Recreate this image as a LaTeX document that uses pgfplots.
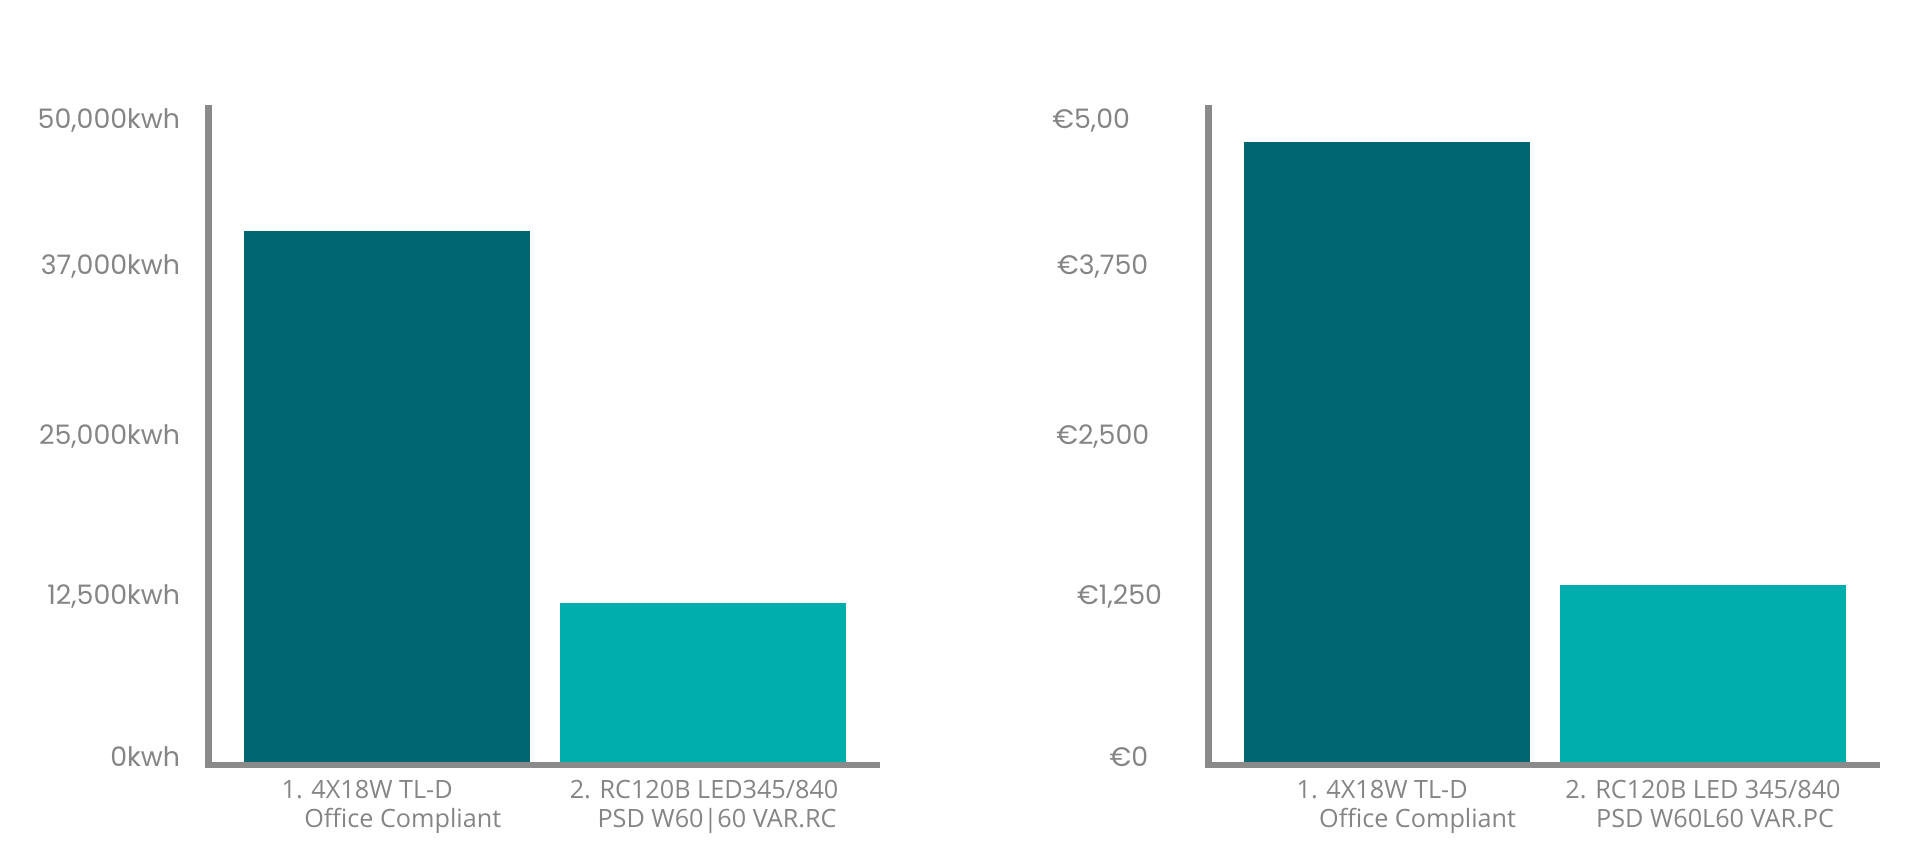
\documentclass[border=0pt]{standalone}
\usepackage{fontspec}
\setmainfont{Open Sans}
\newfontfamily\numfont{Poppins}
\usepackage{pgfplots}
\pgfplotsset{compat=1.18}

\definecolor{axisgray}{HTML}{8A8A8A}
\definecolor{textgray}{HTML}{858585}
\definecolor{darkteal}{HTML}{006670}
\definecolor{lightteal}{HTML}{00AFAD}

% shared look of both panels
\pgfplotsset{
  panel/.style={
    scale only axis,
    width=335.6pt, height=330pt,
    xmin=-0.5655, xmax=1.5592,
    axis lines=left,
    axis line style={draw=none,-},
    tick style={draw=none},
    major tick length=0pt,
    scaled y ticks=false,
    xtick={0,1},
    ybar, bar shift=0pt, bar width=142.75pt,
    clip=false,
    xticklabel style={font=\fontsize{12.6}{14.5}\selectfont, color=textgray,
      anchor=north, align=center, inner sep=0pt, yshift=-7.5pt},
    yticklabel style={font=\numfont\fontsize{13.4}{15}\selectfont, color=textgray,
      anchor=east, inner sep=0pt, yshift=2.75pt},
  },
}

\begin{document}
\begin{tikzpicture}

% energy use
\begin{axis}[panel,
    at={(104.25pt,48.5pt)}, anchor=south west,
    ymin=-234.2, ymax=51296,
    ytick={0,12500,25000,38270,49670},
    yticklabels={0kwh,{12,500kwh},{25,000kwh},{37,000kwh},{50,000kwh}},
    yticklabel style={xshift=-14pt},
    xticklabels={{\hspace*{-20pt}1. 4X18W TL-D\\\hspace*{15.6pt}Office Compliant},
                 {\hspace*{1pt}2. RC120B LED345/840\\\hspace*{14pt}PSD W60|60 VAR.RC}},
  ]
  \addplot[fill=darkteal, draw=none] coordinates {(0,41460)};
  \addplot[fill=lightteal, draw=none] coordinates {(1,12380)};
  \draw[axisgray, line width=3.6pt] (rel axis cs:0,1) -- ([yshift=-1.7pt]rel axis cs:0,0);
  \draw[axisgray, line width=3.4pt] ([xshift=-1.8pt]rel axis cs:0,0) -- (rel axis cs:1,0);
\end{axis}

% running cost
\begin{axis}[panel,
    at={(604.25pt,48.5pt)}, anchor=south west,
    ymin=-23.42, ymax=5129.6,
    ytick={0,1250,2500,3827,4967},
    yticklabels={{€0\hspace*{6.85pt}},{€1,250},{€2,500\hspace*{6.35pt}},{€3,750\hspace*{6.85pt}},{€5,00\hspace*{16pt}}},
    yticklabel style={xshift=-23.1pt},
    xticklabels={{\hspace*{-5pt}1. 4X18W TL-D\\\hspace*{30.5pt}Office Compliant},
                 {2. RC120B LED 345/840\\\hspace*{12pt}PSD W60L60 VAR.PC}},
  ]
  \addplot[fill=darkteal, draw=none] coordinates {(0,4838)};
  \addplot[fill=lightteal, draw=none] coordinates {(1,1380)};
  \draw[axisgray, line width=3.6pt] (rel axis cs:0,1) -- ([yshift=-1.7pt]rel axis cs:0,0);
  \draw[axisgray, line width=3.4pt] ([xshift=-1.8pt]rel axis cs:0,0) -- (rel axis cs:1,0);
\end{axis}

\pgfresetboundingbox
\path[use as bounding box] (0,0) rectangle (958.5pt,431pt);
\end{tikzpicture}
\end{document}
